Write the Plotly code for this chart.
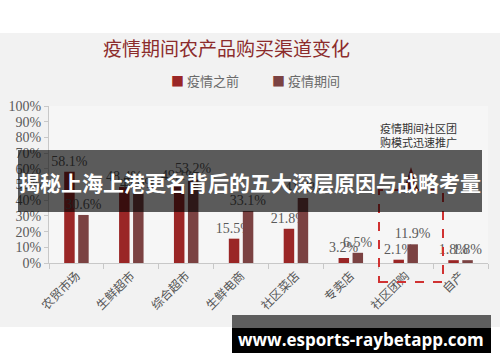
import plotly.graph_objects as go

categories = ["农贸市场", "生鲜超市", "综合超市", "生鲜电商", "社区菜店", "专卖店", "社区团购", "自产"]
before = [58.1, 48.4, 49.1, 15.5, 21.8, 3.2, 2.1, 1.8]
during = [30.6, 44.0, 53.2, 33.1, 41.4, 6.5, 11.9, 1.8]
series_names = ["疫情之前", "疫情期间"]
y_ticks = [0, 10, 20, 30, 40, 50, 60, 70, 80, 90, 100]

C_BEFORE = "#9a2626"
C_DURING = "#7b4242"
W, H = 500, 362
L, R, T, B = 49, 12, 106, 99
PW, PH = W - L - R, H - T - B

def px(x):
    return (x - L) / PW

def py(y):
    return (H - B - y) / PH

serif = "Liberation Serif"
cjk = "Noto Sans CJK SC"

fig = go.Figure()
for name, vals, col in [(series_names[0], before, C_BEFORE), (series_names[1], during, C_DURING)]:
    fig.add_trace(go.Bar(
        x=categories, y=vals, name=name, marker=dict(color=col, line=dict(width=0)),
        text=[f"{v}%" for v in vals], textposition="outside", constraintext="none",
        cliponaxis=False, textfont=dict(family=serif, size=14, color="#5a5a5a"),
        showlegend=False,
    ))

def prect(x0, x1, y0, y1, **kw):
    return dict(type="rect", xref="paper", yref="paper", x0=px(x0), x1=px(x1),
                y0=py(y1), y1=py(y0), **kw)

shapes = [
    # gray background panel
    prect(-5, 505, 33, 327, fillcolor="#f2f2f2", line=dict(width=0), layer="below"),
    dict(type="rect", xref="paper", yref="paper", x0=0, x1=1, y0=0, y1=1,
         fillcolor="#f6f6f6", line=dict(width=0), layer="below"),
    # highlight dashed box around 社区团购
    prect(379, 443, 190, 282, line=dict(color="#d03232", width=2, dash="dash"),
          fillcolor="rgba(0,0,0,0)", layer="above"),
    dict(type="path", xref="paper", yref="paper",
         path=f"M {px(404)} {py(189)} L {px(418)} {py(189)} L {px(411)} {py(167)} Z",
         fillcolor="#a02828", line=dict(width=0), layer="above"),
    # banner overlay
    prect(18, 482, 150, 212, fillcolor="rgba(0,0,0,0.63)", line=dict(width=0), layer="above"),
    # watermark box
    prect(232, 491, 315, 328, fillcolor="#5e5e5e", line=dict(width=0), layer="above"),
    prect(232, 491, 328, 353, fillcolor="#000000", line=dict(width=0), layer="above"),
]

def ann(text, x, y, font, xanchor="center", align="center"):
    return dict(text=text, xref="paper", yref="paper", x=px(x), y=py(y), xanchor=xanchor,
                yanchor="middle", showarrow=False, align=align, font=font)

annotations = [
    ann("疫情期间农产品购买渠道变化", 226, 47, dict(family=cjk, size=19, color="#8c2c2c")),
    ann(f'<span style="color:{C_BEFORE}">■</span> {series_names[0]}', 169, 80,
        dict(family=cjk, size=13, color="#6a6a6a"), xanchor="left"),
    ann(f'<span style="color:{C_DURING}">■</span> {series_names[1]}', 270, 80,
        dict(family=cjk, size=13, color="#6a6a6a"), xanchor="left"),
    ann("疫情期间社区团<br>购模式迅速推广", 418, 135, dict(family=cjk, size=11, color="#333333"), align="left"),
    ann("<b>揭秘上海上港更名背后的五大深层原因与战略考量</b>", 250, 182, dict(family=cjk, size=21, color="#ffffff")),
    ann("<b>www.esports-raybetapp.com</b>", 361, 339, dict(family="Open Sans", size=17, color="#ffffff")),
]

fig.update_layout(
    width=W, height=H, margin=dict(l=L, r=R, t=T, b=B, autoexpand=False),
    paper_bgcolor="#ffffff", plot_bgcolor="rgba(0,0,0,0)",
    barmode="group", bargap=0.49, bargroupgap=0.25,
    shapes=shapes, annotations=annotations, showlegend=False,
)
fig.update_xaxes(
    type="category", range=[-0.5, 7.5], showline=True, linecolor="#c8c8c8", linewidth=1,
    ticks="outside", tickson="boundaries", ticklen=5, tickcolor="#c8c8c8",
    tickangle=-45, tickfont=dict(family=cjk, size=12, color="#555555"), showgrid=False,
)
fig.update_yaxes(
    range=[0, 100], tickvals=y_ticks, ticktext=[f"{v}%" for v in y_ticks],
    showline=True, linecolor="#c8c8c8", linewidth=1, ticks="outside", ticklen=4, tickcolor="#c8c8c8",
    tickfont=dict(family=serif, size=14, color="#5a5a5a"), showgrid=False, zeroline=False,
)

fig.write_html("out.html", config={"displayModeBar": False},
               post_script="document.body.style.margin='0';document.body.style.overflow='hidden';")
